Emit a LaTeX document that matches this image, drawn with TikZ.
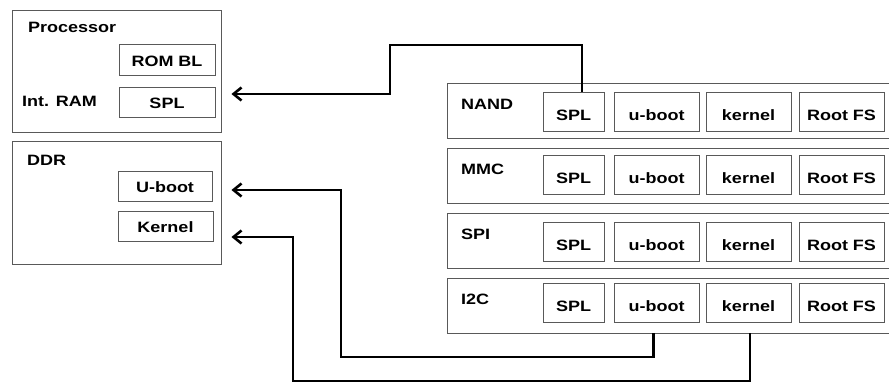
\documentclass[tikz,border=0pt]{standalone}
\usepackage{fontspec}
\setmainfont{Liberation Sans}[FakeStretch=1.2]
\usetikzlibrary{arrows.meta}
\tikzset{
  box/.style={draw=black!65, line width=0.9pt, inner sep=0pt, fill=white},
  lbox/.style={box, font=\fontsize{15}{18}\selectfont\bfseries, text height=13pt, text depth=0pt},
  rbox/.style={box, font=\fontsize{15}{18}\selectfont\bfseries, text height=17pt, text depth=0pt, minimum height=39pt},
  lbl/.style={anchor=base west, inner sep=0pt, font=\fontsize{15}{18}\selectfont\bfseries},
  arr/.style={line width=2.6pt, -{Straight Barb[length=8pt,width=13pt]}, line join=miter},
  wire/.style={line width=2.6pt}
}
\begin{document}
\begin{tikzpicture}[x=1pt,y=-1pt]
\useasboundingbox (0,0) rectangle (889,389);
\clip (0,0) rectangle (889,389);
% left boxes
\node[box, minimum width=209pt, minimum height=122pt] (proc) at (117,71.5) {};
\node[box, minimum width=209pt, minimum height=123pt] (ddr) at (117,202.5) {};
\node[lbl] (tproc) at (28,32.3) {Processor};
\node[lbl] (tram) at (22,106) {Int. RAM};
\node[lbl] (tddr) at (27,165.7) {DDR};
\node[lbox, minimum width=96pt, minimum height=31pt] (rom) at (167,59.5) {ROM BL};
\node[lbox, minimum width=96pt, minimum height=30pt] (ispl) at (167,102) {SPL};
\node[lbox, minimum width=94pt, minimum height=30pt] (dub) at (165,186) {U-boot};
\node[lbox, minimum width=95pt, minimum height=30pt] (dkern) at (165.5,226) {Kernel};
% right rows
\foreach \n/\t/\yc/\yi in {nand/NAND/110.5/111.5, mmc/MMC/175.5/175, spi/SPI/240.5/241.5, i2c/I2C/305.5/302.5}{
  \node[box, minimum width=453pt, minimum height=55pt] (\n) at (673.5,\yc) {};
  \node[lbl] (\n t) at (461,\yc-1) {\t};
  \node[rbox, minimum width=61pt] (\n spl) at (573.5,\yi) {SPL};
  \node[rbox, minimum width=85pt] (\n ub) at (656.5,\yi) {u-boot};
  \node[rbox, minimum width=85pt] (\n kern) at (748.5,\yi) {kernel};
  \node[rbox, minimum width=85pt] (\n rfs) at (841.5,\yi) {Root FS};
}
% arrows
\draw[arr] ([xshift=8.5pt]nandspl.north) |- (390,45) |- ([xshift=16pt,yshift=8pt]ispl.east);
\draw[arr] ([xshift=-3pt]i2cub.south |- i2c.south) |- (341,357) |- ([xshift=19pt,yshift=-4pt]dub.east);
\draw[arr] ([xshift=1.5pt]i2ckern.south |- i2c.south) |- (293,381) |- ([xshift=18pt,yshift=-11pt]dkern.east);
\end{tikzpicture}
\end{document}
